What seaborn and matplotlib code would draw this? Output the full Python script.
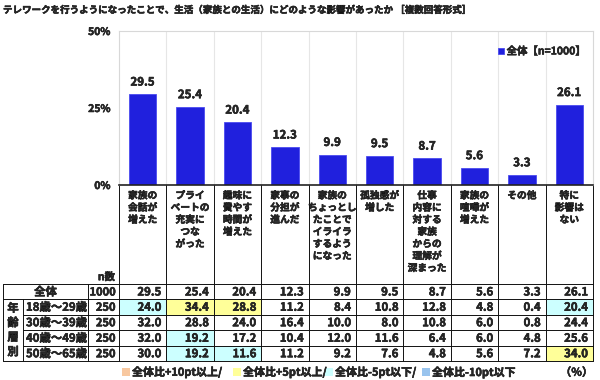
import numpy as np
import pandas as pd
import matplotlib
matplotlib.use("Agg")
import matplotlib.pyplot as plt
from matplotlib.patches import Rectangle
import matplotlib.patheffects as pe
import seaborn as sns

# ---------------- data ----------------
title = "テレワークを行うようになったことで、生活（家族との生活）にどのような影響があったか ［複数回答形式］"
categories = [
    "家族の\n会話が\n増えた",
    "プライ\nベートの\n充実に\nつな\nがった",
    "趣味に\n費やす\n時間が\n増えた",
    "家事の\n分担が\n進んだ",
    "家族の\nちょっとし\nたことで\nイライラ\nするよう\nになった",
    "孤独感が\n増した",
    "仕事\n内容に\n対する\n家族\nからの\n理解が\n深まった",
    "家族の\n喧嘩が\n増えた",
    "その他",
    "特に\n影響は\nない",
]
series_label = "全体【n=1000】"
overall_label = "全体"
overall_n = 1000
overall = [29.5, 25.4, 20.4, 12.3, 9.9, 9.5, 8.7, 5.6, 3.3, 26.1]
age_header = "年齢層別"
age_groups = ["18歳～29歳", "30歳～39歳", "40歳～49歳", "50歳～65歳"]
age_n = [250, 250, 250, 250]
age_18_29 = [24.0, 34.4, 28.8, 11.2, 8.4, 10.8, 12.8, 4.8, 0.4, 20.4]
age_30_39 = [32.0, 28.8, 24.0, 16.4, 10.0, 8.0, 10.8, 6.0, 0.8, 24.4]
age_40_49 = [32.0, 19.2, 17.2, 10.4, 12.0, 11.6, 6.4, 6.0, 4.8, 25.6]
age_50_65 = [30.0, 19.2, 11.6, 11.2, 9.2, 7.6, 4.8, 5.6, 7.2, 34.0]
yticks = [0, 25, 50]
ytick_labels = ["0%", "25%", "50%"]
legend_labels = ["全体比+10pt以上/", "全体比+5pt以上/", "全体比-5pt以下/", "全体比-10pt以下"]
unit_label = "（%）"

# ---------------- style ----------------
sns.set_theme(style="white")
plt.rcParams["font.family"] = ["Noto Sans CJK JP", "DejaVu Sans"]
plt.rcParams["font.weight"] = "bold"

BAR_COLOR = "#2020DD"
HL_COLORS = ["#F8C8A0", "#FFFF99", "#CCFFFF", "#99C4EE"]
W, H = 600, 380
X0, X1 = 119, 593
Y_TOP, Y_BASE = 31, 185
col_x = np.linspace(X0, X1, len(categories) + 1)
col_c = (col_x[:-1] + col_x[1:]) / 2
row_y = [284, 299, 314.5, 330, 345.5, 361]
XL, XAGE, XN = 3, 23, 88

fig = plt.figure(figsize=(W / 100, H / 100), dpi=100)

# table / layout layer in pixel coordinates
tab = fig.add_axes([0, 0, 1, 1])
tab.set_xlim(0, W)
tab.set_ylim(H, 0)
tab.axis("off")

# ---------------- bar chart ----------------
ax = fig.add_axes([X0 / W, 1 - Y_BASE / H, (X1 - X0) / W, (Y_BASE - Y_TOP) / H])
df = pd.DataFrame({"cat": categories, "val": overall})
sns.barplot(data=df, x="cat", y="val", order=categories, color=BAR_COLOR,
            saturation=1, width=0.58, ax=ax, label=series_label)
for p in ax.patches:
    p.set_edgecolor("#4a4af0")
    p.set_linewidth(0.6)
ax.set_xlim(-0.5, len(categories) - 0.5)
ax.set_ylim(0, 50)
ax.set_xticks([])
ax.set_xticks(np.arange(0.5, len(categories) - 0.5, 1), minor=True)
ax.grid(which="minor", axis="x", color="#e6e6e6", lw=0.8)
ax.set_xlabel("")
ax.set_ylabel("")
ax.set_yticks(yticks)
ax.set_yticklabels(ytick_labels, fontsize=7.5, fontweight="bold")
ax.tick_params(axis="y", length=0, pad=6)
ax.tick_params(axis="x", which="both", length=0)
for s in ["top", "right", "left"]:
    ax.spines[s].set_color("#d8d8d8")
    ax.spines[s].set_linewidth(0.8)
ax.spines["bottom"].set_color("#222222")
ax.spines["bottom"].set_linewidth(1.2)
ax.bar_label(ax.containers[0], fmt="%.1f", padding=4, fontsize=8.3, fontweight="bold")
ax.legend(loc="upper right", bbox_to_anchor=(0.985, 0.90), frameon=False,
          handlelength=0.55, handleheight=0.55, handletextpad=0.25,
          borderaxespad=0, borderpad=0, prop={"size": 7.5, "weight": "bold"})

# ---------------- title ----------------
tab.text(XL, 10, title, ha="left", va="center", fontsize=6.85, fontweight="bold")

# ---------------- header labels ----------------
for cx, lab in zip(col_c, categories):
    for j, line in enumerate(lab.split("\n")):
        tab.text(cx, 195.5 + j * 12.1, line, ha="center", va="center",
                 fontsize=7.0, fontweight="bold")
tab.text(115, 277, "n数", ha="right", va="center", fontsize=7.5, fontweight="bold")

# ---------------- table ----------------
rows = [overall, age_18_29, age_30_39, age_40_49, age_50_65]
ns = [overall_n] + age_n
FS = 8.2
for r, vals in enumerate(rows):
    y0, y1 = row_y[r], row_y[r + 1]
    yc = (y0 + y1) / 2
    for c, v in enumerate(vals):
        if r > 0:
            d = v - overall[c]
            color = None
            if d >= 10:
                color = HL_COLORS[0]
            elif d >= 5:
                color = HL_COLORS[1]
            elif d <= -10:
                color = HL_COLORS[3]
            elif d <= -5:
                color = HL_COLORS[2]
            if color:
                tab.add_patch(Rectangle((col_x[c], y0), col_x[c + 1] - col_x[c], y1 - y0,
                                        facecolor=color, edgecolor="none", zorder=1))
        tab.text(col_x[c + 1] - 5, yc + 0.5, f"{v:.1f}", ha="right", va="center",
                 fontsize=FS, fontweight="bold", zorder=3)
    tab.text(X0 - 3.5, yc + 0.5, f"{ns[r]}", ha="right", va="center",
             fontsize=FS - 0.2, fontweight="bold", zorder=3)
    if r == 0:
        tab.text((XL + XN) / 2, yc + 0.5, overall_label, ha="center", va="center",
                 fontsize=FS, fontweight="bold", zorder=3)
    else:
        tab.text(XAGE + 3, yc + 0.5, age_groups[r - 1], ha="left", va="center",
                 fontsize=FS, fontweight="bold", zorder=3)

mid = (row_y[1] + row_y[-1]) / 2
for k, ch in enumerate(age_header):
    tab.text((XL + XAGE) / 2, mid + (k - 1.5) * 14.5, ch, ha="center", va="center",
             fontsize=FS, fontweight="bold", zorder=3)

LC, LW = "#111111", 0.7
for x in col_x:
    tab.plot([x, x], [Y_BASE, row_y[-1]], color=LC, lw=LW, zorder=2)
for x in [XL, XN]:
    tab.plot([x, x], [row_y[0], row_y[-1]], color=LC, lw=LW, zorder=2)
tab.plot([XAGE, XAGE], [row_y[1], row_y[-1]], color=LC, lw=LW, zorder=2)
for k, y in enumerate(row_y):
    xs = XAGE if k in (2, 3, 4) else XL
    tab.plot([xs, X1], [y, y], color=LC, lw=LW, zorder=2)

# ---------------- bottom legend ----------------
leg_sq = [122, 233, 325, 422]
for x, lab, colr in zip(leg_sq, legend_labels, HL_COLORS):
    tab.add_patch(Rectangle((x, 368), 8, 8, facecolor=colr, edgecolor="none"))
    tab.text(x + 10, 372.5, lab, ha="left", va="center", fontsize=7.9, fontweight="bold")
tab.text(X1, 372.5, unit_label, ha="right", va="center", fontsize=7.9, fontweight="bold")

# heavier strokes to mimic the bold Gothic face of the original
for t in fig.findobj(matplotlib.text.Text):
    if t.get_text():
        t.set_path_effects([pe.withStroke(linewidth=0.35, foreground="black")])

fig.savefig("out.png", dpi=100)
